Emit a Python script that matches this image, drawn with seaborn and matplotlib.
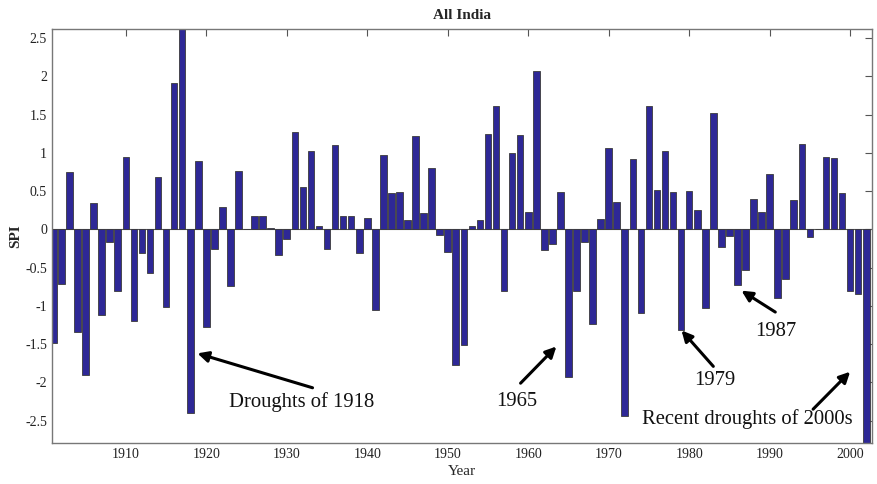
import numpy as np
import pandas as pd
import matplotlib
matplotlib.use("Agg")
import matplotlib.pyplot as plt
import seaborn as sns

# Annual all-India Standardized Precipitation Index, 1901-2002
years = list(range(1901, 2003))
spi = [
    -1.49, -0.71, 0.75, -1.34, -1.90, 0.35, -1.12, -0.16, -0.80, 0.95,   # 1901-1910
    -1.20, -0.31, -0.57, 0.68, -1.02, 1.92, 2.75, -2.40, 0.89, -1.27,    # 1911-1920
    -0.25, 0.30, -0.74, 0.76, 0.00, 0.17, 0.18, 0.02, -0.33, -0.13,      # 1921-1930
    1.28, 0.55, 1.03, 0.04, -0.26, 1.10, 0.17, 0.17, -0.31, 0.15,        # 1931-1940
    -1.05, 0.97, 0.48, 0.49, 0.13, 1.22, 0.21, 0.80, -0.07, -0.30,       # 1941-1950
    -1.77, -1.51, 0.05, 0.12, 1.25, 1.61, -0.80, 1.00, 1.24, 0.23,       # 1951-1960
    2.07, -0.27, -0.19, 0.49, -1.93, -0.80, -0.17, -1.24, 0.14, 1.07,    # 1961-1970
    0.36, -2.44, 0.92, -1.09, 1.61, 0.51, 1.02, 0.49, -1.32, 0.50,       # 1971-1980
    0.25, -1.03, 1.52, -0.23, -0.09, -0.73, -0.53, 0.40, 0.23, 0.73,     # 1981-1990
    -0.89, -0.65, 0.38, 1.12, -0.10, 0.00, 0.95, 0.93, 0.48, -0.80,      # 1991-2000
    -0.85, -2.90,                                                        # 2001-2002
]

yticks = [-2.5, -2, -1.5, -1, -0.5, 0, 0.5, 1, 1.5, 2, 2.5]
ytick_labels = ["-2.5", "-2", "-1.5", "-1", "-0.5", "0", "0.5", "1", "1.5", "2", "2.5"]
xticks = [1910, 1920, 1930, 1940, 1950, 1960, 1970, 1980, 1990, 2000]

# Drought annotations: label, text position, arrow tail, arrow tip
notes = [
    ("Droughts of 1918", (1931.9, -2.26), (1933.2, -2.07), (1918.9, -1.62)),
    ("1965", (1958.6, -2.25), (1959.05, -2.01), (1963.5, -1.53)),
    ("1979", (1983.2, -1.97), (1983.0, -1.79), (1979.05, -1.32)),
    ("1987", (1990.8, -1.34), (1990.7, -1.08), (1986.5, -0.80)),
    ("Recent droughts of 2000s", (1987.2, -2.48), (1995.4, -2.35), (2000.0, -1.86)),
]

df = pd.DataFrame({"Year": years, "SPI": spi})

sns.set_style("white")
plt.rcParams["font.family"] = ["Liberation Serif", "DejaVu Serif"]

fig = plt.figure(figsize=(8.78, 4.84), dpi=100)
ax = fig.add_axes([0.059, 0.085, 0.934, 0.855])

bar_color = "#2e2896"
# Plot bars on a numeric x axis so the year scale stays continuous
ax.bar(df["Year"], df["SPI"], width=0.82, color=bar_color,
       edgecolor="#3a3a3a", linewidth=0.6, zorder=2)
sns.despine(ax=ax, top=False, right=False)
ax.axhline(0, color="#555555", linewidth=0.8, zorder=1)

ax.set_xlim(1900.8, 2002.7)
ax.set_ylim(-2.79, 2.62)
ax.set_xticks(xticks)
ax.set_xticklabels([str(t) for t in xticks])
ax.set_yticks(yticks)
ax.set_yticklabels(ytick_labels)
ax.tick_params(direction="in", length=5, width=0.8, color="#555555",
               labelsize=10, top=True, right=True, labelcolor="#222222")

for s in ax.spines.values():
    s.set_color("#777777")
    s.set_linewidth(1.0)

ax.set_title("All India", fontsize=11, fontweight="bold", pad=7)
ax.set_xlabel("Year", fontsize=11, labelpad=3)
ax.set_ylabel("SPI", fontsize=11, fontweight="bold", labelpad=2)

for label, txt, tail, tip in notes:
    ax.annotate("", xy=tip, xytext=tail,
                arrowprops=dict(arrowstyle="-|>", color="black", lw=2.2,
                                mutation_scale=16, shrinkA=0, shrinkB=0),
                zorder=4)
    ax.text(txt[0], txt[1], label, ha="center", va="center",
            fontsize=14.9, color="#111111", zorder=5)

fig.savefig("out.png", dpi=100)
